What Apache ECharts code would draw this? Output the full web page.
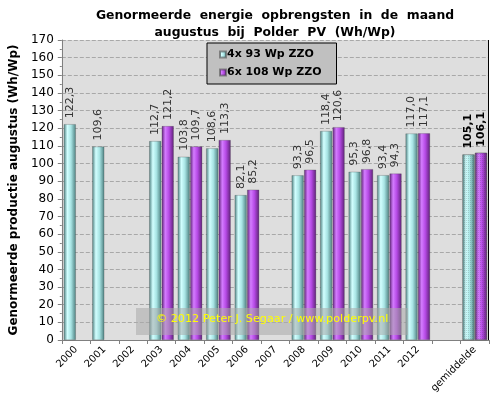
<!DOCTYPE html>
<html>
<head>
<meta charset="utf-8">
<title>Genormeerde energie augustus</title>
<script src="https://cdn.jsdelivr.net/npm/echarts@6/dist/echarts.min.js"></script>
<style>
  html, body { margin: 0; padding: 0; background: #fff; }
  #main { width: 501px; height: 398px; }
</style>
</head>
<body>
<div id="main"></div>
<script>
// categorieen (lege kolom voor gemiddelde)
var years = ['2000', '2001', '2002', '2003', '2004', '2005', '2006', '2007',
             '2008', '2009', '2010', '2011', '2012', '', 'gemiddelde'];
var serie1Name = '4x 93 Wp ZZO';
var serie2Name = '6x 108 Wp ZZO';
var serie1 = [122.3, 109.6, null, 112.7, 103.8, 108.6, 82.1, null,
              93.3, 118.4, 95.3, 93.4, 117.0, null, 105.1];
var serie2 = [null, null, null, 121.2, 109.7, 113.3, 85.2, null,
              96.5, 120.6, 96.8, 94.3, 117.1, null, 106.1];
var yTicks = [0, 170, 10];

var font = 'Verdana, "DejaVu Sans", sans-serif';
var avgIdx = years.length - 1;

function grad(edge, mid, light) {
  return new echarts.graphic.LinearGradient(0, 0, 1, 0, [
    { offset: 0, color: edge },
    { offset: 0.3, color: light },
    { offset: 0.6, color: mid },
    { offset: 1, color: edge }
  ]);
}
var cyan = grad('#4d7f7f', '#a8e4e4', '#d2ffff');
var paars = grad('#5e2276', '#b64ae6', '#d47cff');

function fmt(p) {
  return p.value == null ? '' : p.value.toFixed(1).replace('.', ',');
}

function makeData(vals, color) {
  return vals.map(function (v, i) {
    if (i !== avgIdx) return v;
    return {
      value: v,
      itemStyle: {
        color: color,
        decal: {
          symbol: 'rect', symbolSize: 1,
          dashArrayX: [1, 1], dashArrayY: [1, 1],
          color: 'rgba(60,60,60,0.2)'
        }
      },
      label: { fontWeight: 'bold', color: '#000' }
    };
  });
}

function barSerie(name, vals, color) {
  return {
    name: name,
    type: 'bar',
    data: makeData(vals, color),
    barWidth: 12,
    barGap: '4%',
    itemStyle: { color: color, borderColor: 'rgba(60,60,60,0.5)', borderWidth: 0.5 },
    label: {
      show: true,
      position: 'top',
      rotate: 90,
      align: 'left',
      verticalAlign: 'middle',
      distance: 6,
      formatter: fmt,
      fontFamily: font,
      fontSize: 11,
      color: '#333'
    }
  };
}

var chart = echarts.init(document.getElementById('main'));
chart.setOption({
  animation: false,
  backgroundColor: '#fff',
  title: {
    text: 'Genormeerde  energie  opbrengsten  in  de  maand\naugustus  bij  Polder  PV  (Wh/Wp)',
    left: 270,
    textAlign: 'center',
    top: 2,
    textStyle: { fontFamily: font, fontSize: 12.4, fontWeight: 'bold', color: '#000', lineHeight: 17 }
  },
  legend: {
    orient: 'vertical',
    left: 207,
    top: 43,
    backgroundColor: '#c0c0c0',
    borderColor: '#000',
    borderWidth: 1,
    borderRadius: 0,
    padding: [6, 15, 6, 12],
    itemGap: 7,
    itemWidth: 6,
    itemHeight: 6,
    icon: 'rect',
    textStyle: { fontFamily: font, fontSize: 11, fontWeight: 'bold', color: '#000', padding: [0, 0, 0, -4] },
    data: [serie1Name, serie2Name]
  },
  grid: { left: 54, right: 12, top: 40, bottom: 58, containLabel: false,
          show: true, backgroundColor: '#dedede', borderColor: '#000', borderWidth: 0 },
  xAxis: {
    type: 'category',
    data: years,
    axisLine: { lineStyle: { color: '#808080' } },
    axisTick: { show: true, alignWithLabel: false, length: 4, lineStyle: { color: '#808080' } },
    axisLabel: { rotate: 45, interval: 0, fontFamily: font, fontSize: 10, color: '#000', margin: 8 }
  },
  yAxis: {
    type: 'value',
    min: yTicks[0],
    max: yTicks[1],
    interval: yTicks[2],
    name: 'Genormeerde productie augustus (Wh/Wp)',
    nameLocation: 'middle',
    nameGap: 39,
    nameTextStyle: { fontFamily: font, fontSize: 12, fontWeight: 'bold', color: '#000' },
    axisLine: { show: true, lineStyle: { color: '#808080' } },
    axisTick: { show: true, length: 4, lineStyle: { color: '#808080' } },
    minorTick: { show: true, splitNumber: 2, length: 2, lineStyle: { color: '#808080' } },
    axisLabel: { fontFamily: font, fontSize: 12, color: '#000', margin: 8 },
    splitLine: { lineStyle: { color: '#a8a8a8', type: [4, 2] } }
  },
  graphic: [
    { type: 'rect', left: 488, top: 40, shape: { width: 1, height: 300 }, style: { fill: '#000' }, z: 10 },
    { type: 'rect', left: 136, top: 308, shape: { width: 272, height: 27 },
      style: { fill: 'rgba(170,170,170,0.55)' }, z: 20 },
    { type: 'text', left: 156, top: 314, z: 21,
      style: { text: '\u00a9 2012 Peter J. Segaar / www.polderpv.nl', fill: '#ffff00',
               font: '11.2px Tahoma, "DejaVu Sans", sans-serif' } }
  ],
  series: [
    barSerie(serie1Name, serie1, cyan),
    barSerie(serie2Name, serie2, paars)
  ]
});
</script>
</body>
</html>
